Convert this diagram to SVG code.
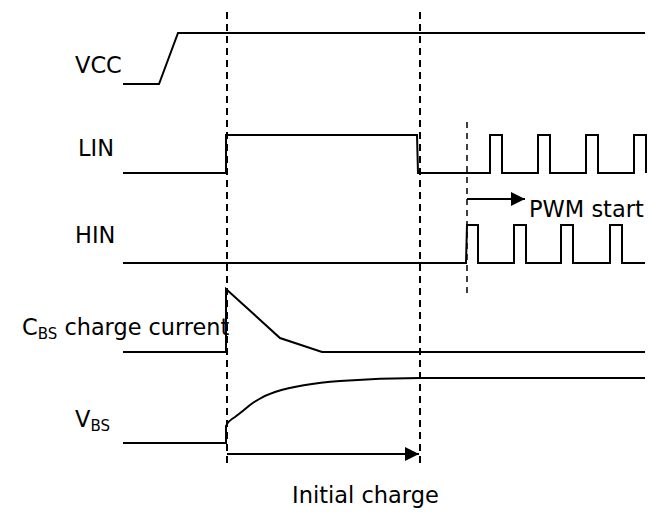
<svg xmlns="http://www.w3.org/2000/svg" width="653" height="517" viewBox="0 0 653 517">
<style>
.sig{fill:none;stroke:#000;stroke-width:2;stroke-linejoin:miter}
.dash{fill:none;stroke:#000;stroke-width:2;stroke-dasharray:7 5}
.dash2{fill:none;stroke:#000;stroke-width:1.5;stroke-dasharray:6 5}
.arr{fill:none;stroke:#000;stroke-width:2}
text{font-family:"DejaVu Sans","Liberation Sans",sans-serif;font-size:22.5px;fill:#000}
.sub{font-size:15px}
</style>
<defs>
<marker id="ah" viewBox="0 0 10 10" refX="10" refY="5" markerWidth="16" markerHeight="14" markerUnits="userSpaceOnUse" orient="auto">
<path d="M0,0 L10,5 L0,10 Z" fill="#000"/>
</marker>
</defs>
<rect width="653" height="517" fill="#fff"/>
<g id="guides">
<line class="dash" x1="227" y1="12" x2="227" y2="467"/>
<line class="dash" x1="420" y1="12" x2="420" y2="467"/>
<line class="dash2" x1="467" y1="122" x2="467" y2="298"/>
</g>
<g id="vcc">
<text x="75" y="73">VCC</text>
<polyline class="sig" points="123,84 159,84 178,33 645,33"/>
</g>
<g id="lin">
<text x="78" y="156">LIN</text>
<polyline class="sig" points="123,173 226,173 226,135 417,135 418,173 490,173 490,135 502,135 502,173 538,173 538,135 550,135 550,173 586,173 586,135 598,135 598,173 634,173 634,135 646,135 646,173"/>
</g>
<g id="hin">
<text x="75" y="243">HIN</text>
<polyline class="sig" points="123,263 466,263 467,225 478,225 478,263 514,263 514,225 526,225 526,263 561,263 561,225 573,225 573,263 610,263 610,225 622,225 622,263 645,263"/>
</g>
<g id="cbs">
<text x="22" y="335">C<tspan class="sub" dy="4">BS</tspan><tspan dy="-4" textLength="172" lengthAdjust="spacingAndGlyphs"> charge current</tspan></text>
<polyline class="sig" points="123,352 226,352 226,289 280,338 322,352 645,352"/>
</g>
<g id="vbs">
<text x="75" y="427">V<tspan class="sub" dy="4">BS</tspan></text>
<path class="sig" d="M123,443 L226,443 L226,426 Q228,421 235,417 Q243,411 250,405 Q262,396 275,392 Q300,384 340,381 Q380,378 420,378 L645,378"/>
</g>
<g id="connectors">
<line class="arr" x1="467" y1="199" x2="525" y2="199" marker-end="url(#ah)"/>
<line class="arr" x1="227" y1="454" x2="419" y2="454" marker-end="url(#ah)"/>
</g>
<g id="labels">
<text x="529" y="217">PWM start</text>
<text x="292" y="503">Initial charge</text>
</g>
</svg>
